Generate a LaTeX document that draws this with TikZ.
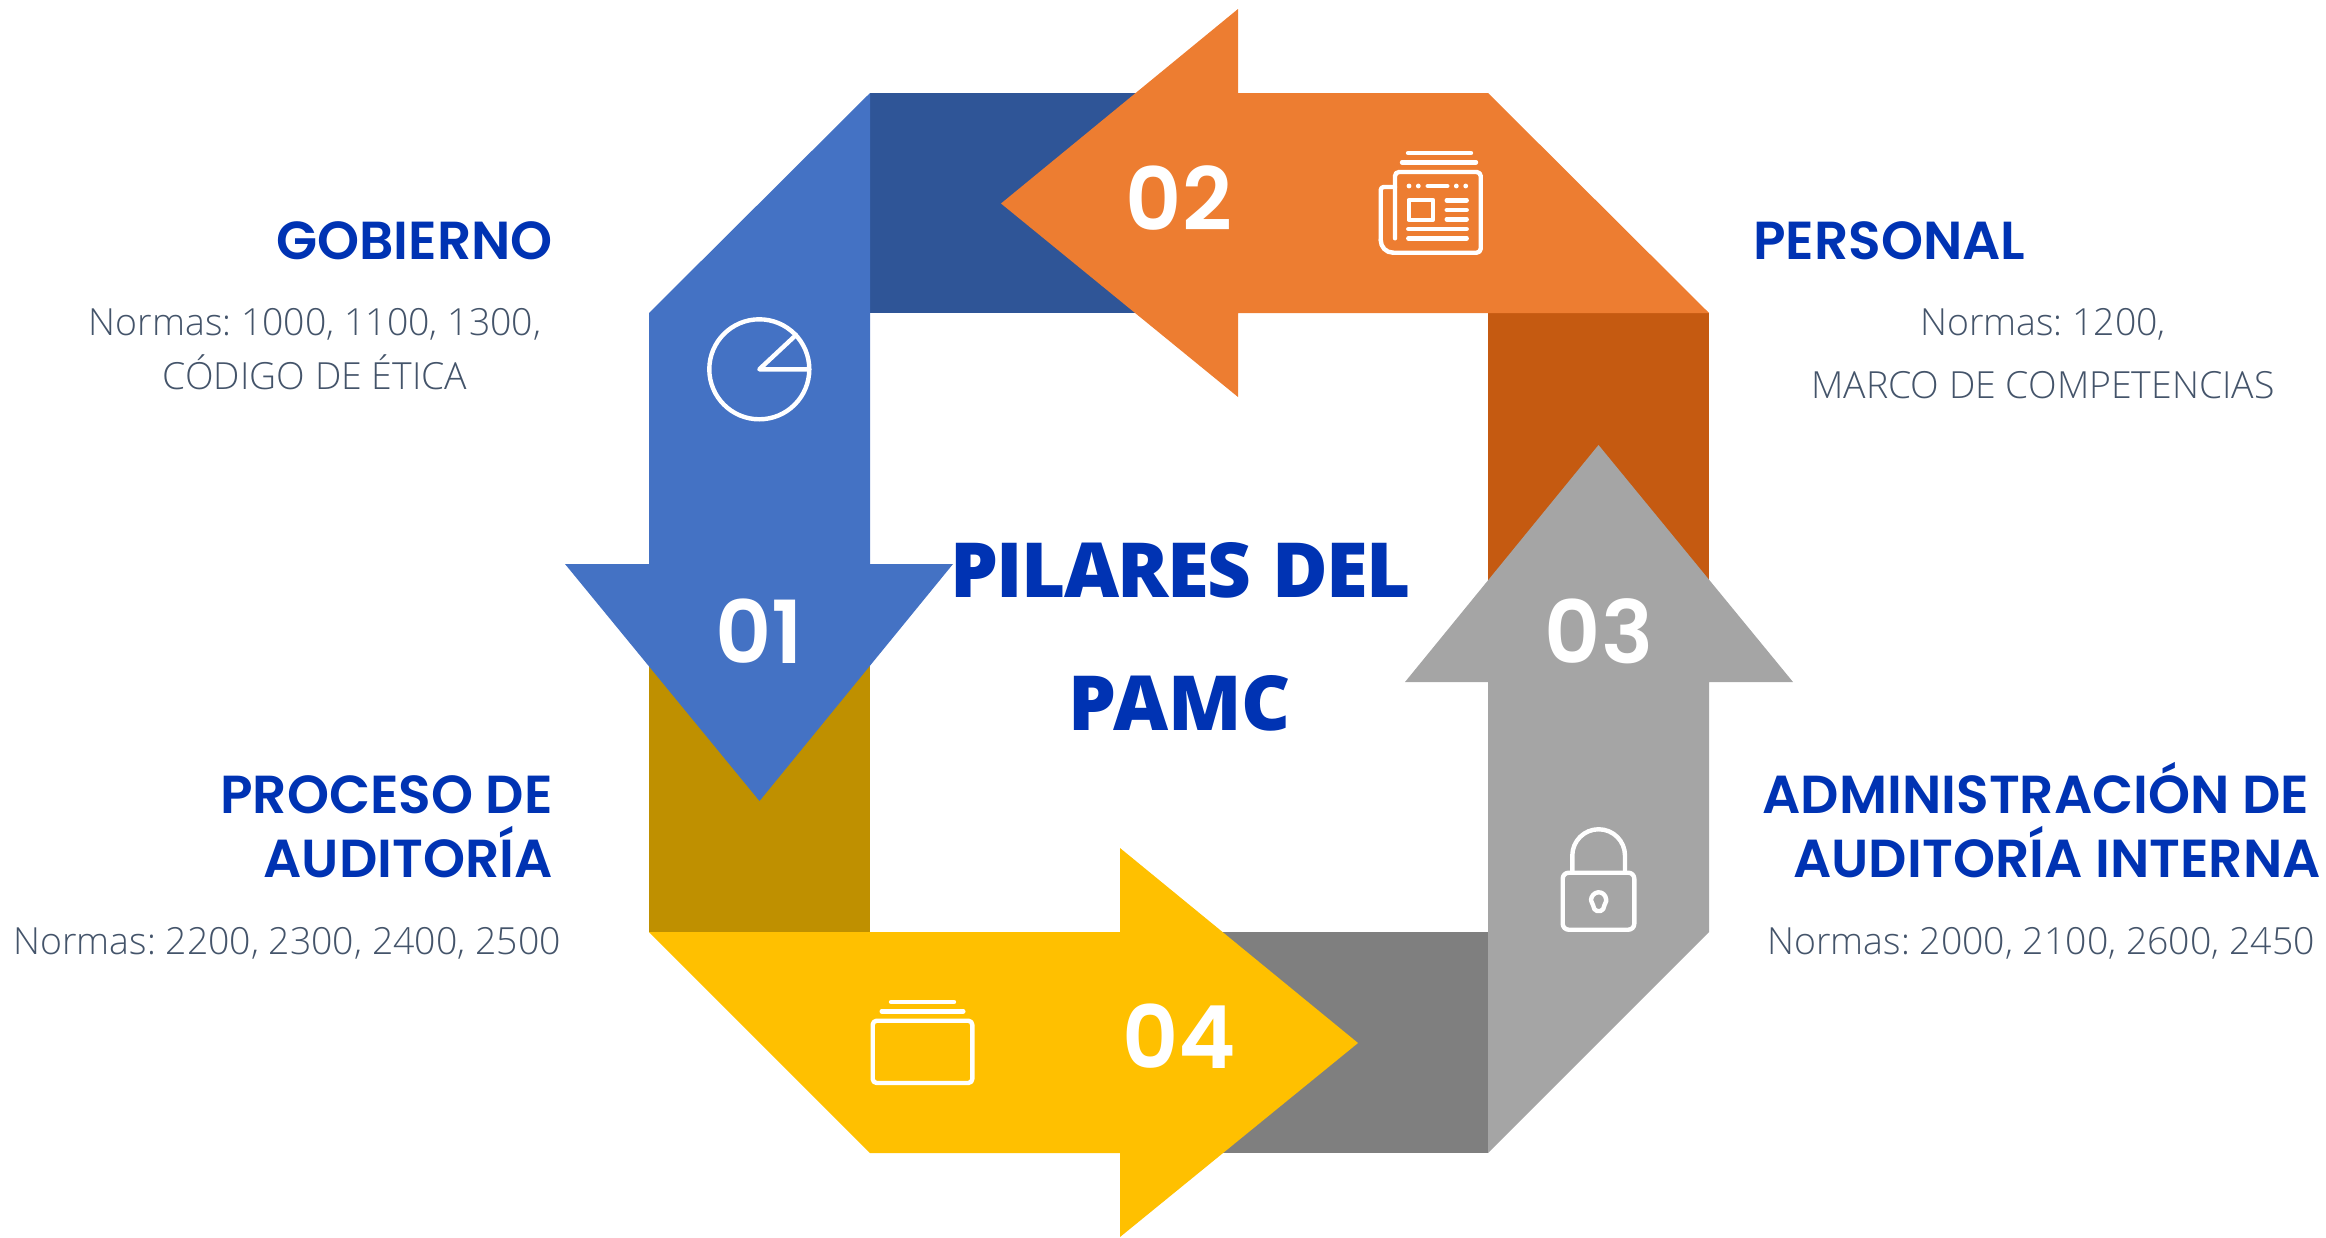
\documentclass[tikz,border=0pt]{standalone}
\usepackage{fontspec}
\setmainfont{Open Sans Light}
\newfontfamily\popsemi{Poppins SemiBold}
\newfontfamily\opxb{Open Sans Extrabold}
\newfontfamily\opxbtight[LetterSpace=-2.2]{Open Sans Extrabold}
\definecolor{cblue}{HTML}{4472C4}
\definecolor{cbluedk}{HTML}{2F5597}
\definecolor{corange}{HTML}{ED7D31}
\definecolor{corangedk}{HTML}{C55A11}
\definecolor{cgray}{HTML}{A5A5A5}
\definecolor{cgraydk}{HTML}{7F7F7F}
\definecolor{cyellow}{HTML}{FFC000}
\definecolor{cyellowdk}{HTML}{BF9000}
\definecolor{headblue}{HTML}{0033B3}
\definecolor{bodygray}{HTML}{44546A}
\newcommand{\fs}[1]{\fontsize{#1}{#1}\selectfont}
\frenchspacing
\tikzset{
  x=1pt,y=-1pt,
  heading/.style={inner sep=0pt,text=headblue,font=\popsemi\frenchspacing\fs{53.5}},
  body/.style={inner sep=0pt,text=bodygray,font=\frenchspacing\fs{37.4}},
  title/.style={inner sep=0pt,anchor=base,text=headblue,font=\opxb\fs{76}},
  number/.style={inner sep=0pt,anchor=base,text=white,font=\popsemi\fs{87}},
  icon/.style={draw=white,line width=4.4pt,line cap=round,line join=round},
}
\begin{document}
\begin{tikzpicture}
\useasboundingbox (0,0) rectangle (2326,1237);
% dark connecting bands
\fill[cbluedk] (870,93) rectangle (1238,313);
\fill[corangedk] (1488,313) rectangle (1709,682);
\fill[cgraydk] (1120,932) rectangle (1488,1153);
\fill[cyellowdk] (649,564) rectangle (870,932);
% arrows
\fill[cblue] (870,93) -- (649,313) -- (649,564) -- (565,564) -- (759.5,801) -- (953,564) -- (870,564) -- cycle;
\fill[corange] (1709,313) -- (1488,93) -- (1238,93) -- (1238,9) -- (1001,203.5) -- (1238,397) -- (1238,313) -- cycle;
\fill[cgray] (1488,1153) -- (1709,932) -- (1709,682) -- (1793,682) -- (1598.5,445) -- (1405,682) -- (1488,682) -- cycle;
\fill[cyellow] (649,932) -- (870,1153) -- (1120,1153) -- (1120,1237) -- (1358,1043) -- (1120,848) -- (1120,932) -- cycle;
% numbers
\node[number] (n1) at (759,663) {01};
\node[number] (n2) at (1179,230) {02};
\node[number] (n3) at (1599,663) {03};
\node[number] (n4) at (1179,1068) {04};
% title
\node[title,font=\opxbtight\fs{76}] (t1) at (1180.5,597.5) {PILARES\hspace{3pt} DEL};
\node[title] (t2) at (1180,730) {PAMC};
% left top
\node[heading,anchor=base east] (h1) at (553,259) {GOBIERNO};
\node[body,anchor=base] (b1a) at (315,335) {Normas: 1000, 1100, 1300,};
\node[body,anchor=base] (b1b) at (315,389) {CÓDIGO DE ÉTICA};
% right top
\node[heading,anchor=base west] (h2) at (1753,259) {PERSONAL};
\node[body,anchor=base] (b2a) at (2043,335) {Normas: 1200,};
\node[body,anchor=base] (b2b) at (2043,398) {MARCO DE COMPETENCIAS};
% left bottom
\node[heading,anchor=base east] (h3a) at (553,813) {PROCESO DE};
\node[heading,anchor=base east] (h3b) at (553,877) {AUDITORÍA};
\node[body,anchor=base] (b3) at (287,954) {Normas: 2200, 2300, 2400, 2500};
% right bottom
\node[heading,anchor=base] (h4a) at (2036,813) {ADMINISTRACIÓN DE};
\node[heading,anchor=base] (h4b) at (2057,877) {AUDITORÍA INTERNA};
\node[body,anchor=base] (b4) at (2041,954) {Normas: 2000, 2100, 2600, 2450};
% pie icon
\draw[icon] (759.3,369.3) circle[radius=50pt];
\draw[icon] (796,335) -- (759.3,369.3) -- (809.3,369.3);
% newspaper icon
\draw[icon] (1408,153) -- (1471,153);
\draw[icon] (1402,162.3) -- (1476,162.3);
\draw[icon,rounded corners=4pt] (1395,238.3) -- (1395,172) -- (1480.7,172) -- (1480.7,252.7) -- (1393,252.7);
\draw[icon] (1393,252.7) .. controls (1386,252.7) and (1380.7,247) .. (1380.7,240);
\draw[icon,rounded corners=3pt] (1380.7,240) -- (1380.7,187) -- (1395,187);
\fill[white] (1409,186) circle[radius=2.4pt] (1418.3,186) circle[radius=2.4pt] (1456.3,186) circle[radius=2.4pt] (1465.7,186) circle[radius=2.4pt];
\draw[icon] (1427.7,186) -- (1447.3,186);
\draw[icon] (1408.7,200) rectangle (1433,219.7);
\draw[icon] (1446.7,200.3) -- (1466.7,200.3);
\draw[icon] (1446.7,210) -- (1466.7,210);
\draw[icon] (1446.7,219.3) -- (1466.7,219.3);
\draw[icon] (1408.3,229) -- (1466.7,229);
\draw[icon] (1408.3,238.3) -- (1466.7,238.3);
% lock icon
\draw[icon,rounded corners=6pt] (1562.7,872.7) rectangle (1634.3,929.7);
\draw[icon] (1572.3,871) -- (1572.3,855.6) arc[start angle=180,end angle=0,radius=26.35pt] -- (1625,871);
\draw[icon,rounded corners=2pt] (1595,911) -- (1592.3,903) arc[start angle=208,end angle=-28,radius=7.3pt] -- (1602.5,911) -- cycle;
% folder icon
\draw[icon] (891,1002) -- (954,1002);
\draw[icon] (881.7,1011.3) -- (963.3,1011.3);
\draw[icon,rounded corners=4pt] (872.7,1020.7) rectangle (972.3,1083);
\end{tikzpicture}
\end{document}
